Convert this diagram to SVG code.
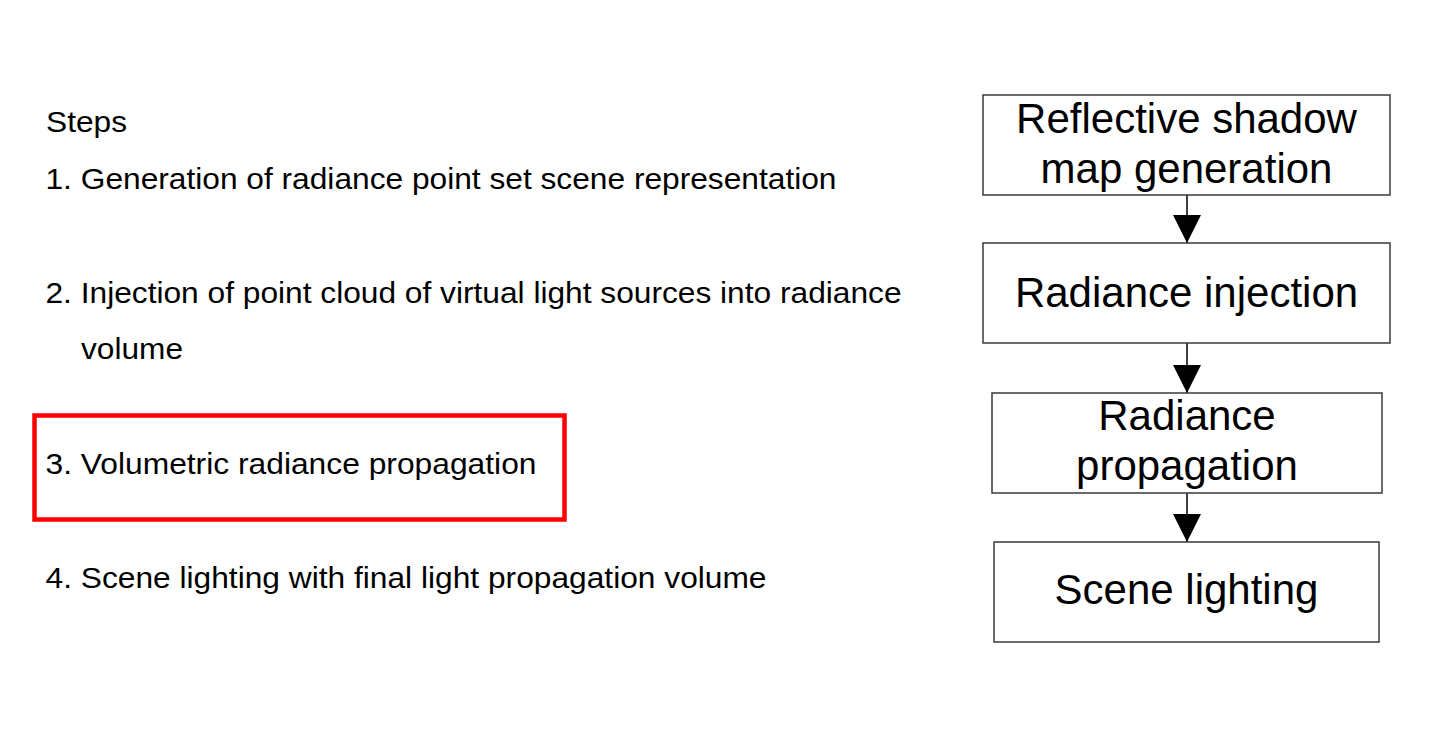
<svg xmlns="http://www.w3.org/2000/svg" width="1440" height="738" viewBox="0 0 1440 738">
  <defs>
    <style>
      .step { font-family: "Liberation Sans", Arial, sans-serif; font-size: 30px; fill: #000; }
      .box rect { fill: #fff; stroke: #3a3a3a; stroke-width: 1.5; }
      .box text { font-family: "Liberation Sans", Arial, sans-serif; font-size: 42px; fill: #000; text-anchor: middle; }
      .conn line { stroke: #000; stroke-width: 1.5; }
    </style>
    <marker id="arrow" markerUnits="userSpaceOnUse" markerWidth="29" markerHeight="29" refX="28" refY="14" orient="auto" viewBox="0 0 29 29">
      <path d="M0,0 L28,14 L0,28 Z" fill="#000"/>
    </marker>
  </defs>
  <rect x="0" y="0" width="1440" height="738" fill="#fff"/>

  <g id="steps-text">
    <text class="step" x="46" y="132" textLength="81" lengthAdjust="spacingAndGlyphs">Steps</text>
    <text class="step" x="45.5" y="189" textLength="791" lengthAdjust="spacingAndGlyphs">1. Generation of radiance point set scene representation</text>
    <text class="step" x="45.5" y="303" textLength="856" lengthAdjust="spacingAndGlyphs">2. Injection of point cloud of virtual light sources into radiance</text>
    <text class="step" x="81" y="359" textLength="102" lengthAdjust="spacingAndGlyphs">volume</text>
    <text class="step" x="45.5" y="474" textLength="491" lengthAdjust="spacingAndGlyphs">3. Volumetric radiance propagation</text>
    <text class="step" x="45.5" y="588" textLength="721" lengthAdjust="spacingAndGlyphs">4. Scene lighting with final light propagation volume</text>
  </g>

  <g id="highlight">
    <rect x="34.5" y="415.5" width="530" height="104" fill="none" stroke="#ff0000" stroke-width="4.5"/>
  </g>

  <g id="conns" class="conn">
    <line x1="1187" y1="195" x2="1187" y2="243" marker-end="url(#arrow)"/>
    <line x1="1187" y1="343" x2="1187" y2="393" marker-end="url(#arrow)"/>
    <line x1="1187" y1="493" x2="1187" y2="542" marker-end="url(#arrow)"/>
  </g>

  <g id="node-rsm" class="box">
    <rect x="983" y="95" width="407" height="100"/>
    <text x="1186.5" y="133">Reflective shadow</text>
    <text x="1186.5" y="183">map generation</text>
  </g>
  <g id="node-injection" class="box">
    <rect x="983" y="243" width="407" height="100"/>
    <text x="1186.5" y="307">Radiance injection</text>
  </g>
  <g id="node-propagation" class="box">
    <rect x="992" y="393" width="390" height="100"/>
    <text x="1187" y="430">Radiance</text>
    <text x="1187" y="480">propagation</text>
  </g>
  <g id="node-lighting" class="box">
    <rect x="994" y="542" width="385" height="100"/>
    <text x="1186.5" y="604">Scene lighting</text>
  </g>
</svg>
